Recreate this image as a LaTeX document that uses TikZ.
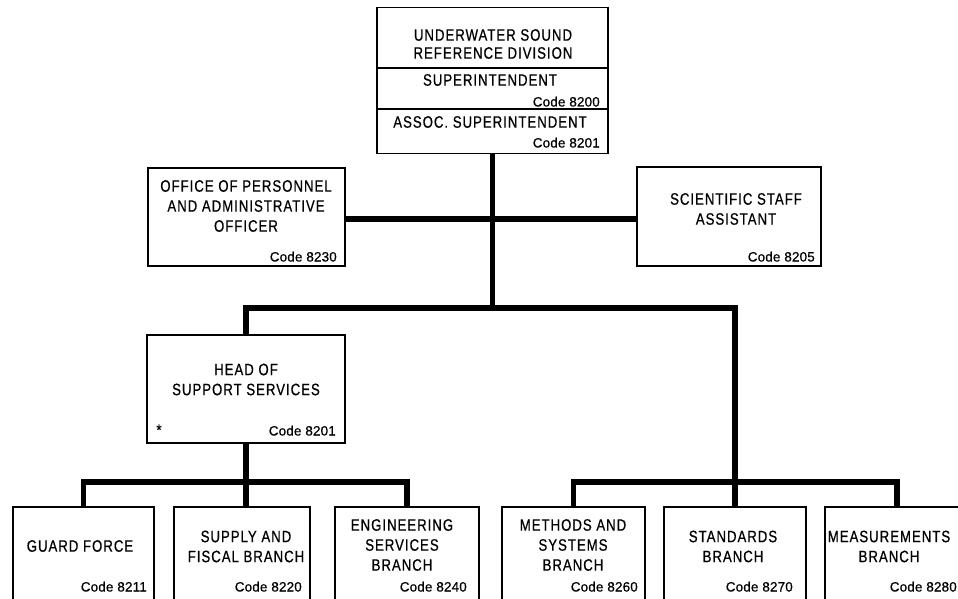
\documentclass[tikz,border=0pt]{standalone}
\usepackage{fontspec}
\setmainfont[FakeStretch=0.8,FakeBold=0.6,LetterSpace=6]{Liberation Sans}
\newfontfamily\codefont[FakeBold=0.6,LetterSpace=1]{Liberation Sans}
\begin{document}
\begin{tikzpicture}[x=1pt,y=-1pt,
  box/.style={draw, line width=1.2pt, inner sep=0pt},
  conn/.style={line width=5.5pt, line join=miter},
  lbl/.style={font=\fontsize{16.5}{20}\selectfont, align=center, inner sep=0pt},
  codelbl/.style={font=\codefont\fontsize{13.5}{15}\selectfont, anchor=base east, inner sep=0pt}]
\useasboundingbox (0,0) rectangle (958,599);
\clip (0,0) rectangle (958,599);
% boxes
\node[box, minimum width=231pt, minimum height=146pt] (top) at (492.5,80.5) {};
\draw[line width=1.2pt] (top.west |- 0,68) -- (top.east |- 0,68);
\draw[line width=1.2pt] (top.west |- 0,109) -- (top.east |- 0,109);
\node[box, minimum width=197pt, minimum height=98pt] (office) at (246.5,217) {};
\node[box, minimum width=184pt, minimum height=99pt] (sci) at (729,216.5) {};
\node[box, minimum width=198pt, minimum height=108pt] (head) at (246,389) {};
\node[box, minimum width=141pt, minimum height=103pt] (guard) at (83.5,558.5) {};
\node[box, minimum width=136pt, minimum height=103pt] (supply) at (242,558.5) {};
\node[box, minimum width=144pt, minimum height=103pt] (eng) at (407,558.5) {};
\node[box, minimum width=143pt, minimum height=103pt] (meth) at (573.5,558.5) {};
\node[box, minimum width=142pt, minimum height=103pt] (stand) at (735,558.5) {};
\node[box, minimum width=144pt, minimum height=103pt] (meas) at (897,558.5) {};
% texts
\node[lbl, font=\fontsize{16.5}{18}\selectfont] (t1) at (493,44) {UNDERWATER SOUND\\REFERENCE DIVISION};
\node[lbl] (t2) at (490,80) {SUPERINTENDENT};
\node[codelbl] (c1) at (600,106.5) {Code 8200};
\node[lbl] (t3) at (490,122) {ASSOC. SUPERINTENDENT};
\node[codelbl] (c2) at (600,147.5) {Code 8201};
\node[lbl] (t4) at (246,206) {OFFICE OF PERSONNEL\\AND ADMINISTRATIVE\\OFFICER};
\node[codelbl] (c3) at (337,261.5) {Code 8230};
\node[lbl] (t5) at (736,209) {SCIENTIFIC STAFF\\ASSISTANT};
\node[codelbl] (c4) at (815,261.5) {Code 8205};
\node[lbl] (t6) at (246,379.5) {HEAD OF\\SUPPORT SERVICES};
\node[lbl] (star) at (159,430) {*};
\node[codelbl] (c5) at (336,435.5) {Code 8201};
\node[lbl] (t7) at (80,546) {GUARD FORCE};
\node[codelbl] (c6) at (147,591.5) {Code 8211};
\node[lbl] (t8) at (246,546.5) {SUPPLY AND\\FISCAL BRANCH};
\node[codelbl] (c7) at (302,591.5) {Code 8220};
\node[lbl] (t9) at (402,545) {ENGINEERING\\SERVICES\\BRANCH};
\node[codelbl] (c8) at (467,591.5) {Code 8240};
\node[lbl] (t10) at (573,545) {METHODS AND\\SYSTEMS\\BRANCH};
\node[codelbl] (c9) at (638,591.5) {Code 8260};
\node[lbl] (t11) at (733,546.5) {STANDARDS\\BRANCH};
\node[codelbl] (c10) at (793,591.5) {Code 8270};
\node[lbl] (t12) at (889,546.5) {MEASUREMENTS\\BRANCH};
\node[codelbl] (c11) at (957,591.5) {Code 8280};
% connectors
\coordinate (ja) at (0,219);
\coordinate (jb) at (0,308);
\coordinate (jc) at (0,482);
\draw[conn] (top.south) -- (top.south |- jb);
\draw[conn] (office.east |- ja) -- (sci.west |- ja);
\draw[conn] (head.north) -- (head.north |- jb) -- (stand.north |- jb) -- (stand.north);
\draw[conn] (head.south) -- (head.south |- guard.north);
\draw[conn] (guard.north) -- (guard.north |- jc) -- (eng.north |- jc) -- (eng.north);
\draw[conn] (meth.north) -- (meth.north |- jc) -- (meas.north |- jc) -- (meas.north);
\end{tikzpicture}
\end{document}
